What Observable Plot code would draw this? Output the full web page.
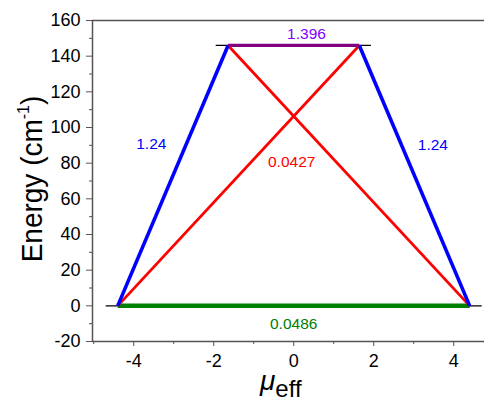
<!DOCTYPE html>
<html><head><meta charset="utf-8">
<script src="https://cdn.jsdelivr.net/npm/d3@7"></script>
<script src="https://cdn.jsdelivr.net/npm/@observablehq/plot@0.6"></script>
<style>body{margin:0;background:#fff}svg{font-family:"Liberation Sans",Arial,sans-serif}</style>
</head><body><div id="c"></div>
<script>
const xTicks = [-4, -2, 0, 2, 4];
const xMinor = [-5, -3, -1, 1, 3];
const yTicks = [-20, 0, 20, 40, 60, 80, 100, 120, 140, 160];
const yMinor = [-10, 10, 30, 50, 70, 90, 110, 130, 150];
const xDomain = [-5.03, 4.77];
const yDomain = [-20, 160];
// energy levels
const ground = {x1: -4.4, x2: 4.4, y: 0};
const excited = {x1: -1.64, x2: 1.64, y: 146};
const groundRef = {x1: -4.7, x2: 4.7, y: 0};
const excitedRef = {x1: -1.95, x2: 1.93, y: 146};
const blueLinks = [{x1: -4.4, y1: 0, x2: -1.64, y2: 146}, {x1: 4.4, y1: 0, x2: 1.64, y2: 146}];
const redLinks = [{x1: -4.4, y1: 0, x2: 1.64, y2: 146}, {x1: 4.4, y1: 0, x2: -1.64, y2: 146}];
const labels = [
  {x: -3.56, y: 90.5, t: "1.24", c: "#0000ff"},
  {x: 3.48, y: 90, t: "1.24", c: "#0000ff"},
  {x: -0.05, y: 80.5, t: "0.0427", c: "#ff0000"},
  {x: 0.32, y: 152.5, t: "1.396", c: "#8000ff"},
  {x: 0, y: -10, t: "0.0486", c: "#008000"}
];
const axisColor = "#555";
const plot = Plot.plot({
  width: 484, height: 401,
  marginLeft: 92, marginTop: 20, marginBottom: 60, marginRight: 0,
  style: {fontFamily: "Liberation Sans, Arial, sans-serif", fontSize: "18px", color: "#000"},
  x: {domain: xDomain},
  y: {domain: yDomain},
  marks: [
    Plot.ruleY([yDomain[0], yDomain[1]], {stroke: axisColor, strokeWidth: 1.5}),
    Plot.ruleX([xDomain[0]], {stroke: axisColor, strokeWidth: 1.5}),
    Plot.axisX({ticks: xTicks, tickSize: 5, tickPadding: 8, fontSize: 18, label: null, stroke: axisColor, tickFormat: d => String(d)}),
    Plot.axisX({ticks: xMinor, tickSize: 3, text: null, label: null, stroke: axisColor}),
    Plot.axisY({ticks: yTicks, tickSize: 6, tickPadding: 6, fontSize: 18, label: null, stroke: axisColor, tickFormat: d => String(d)}),
    Plot.axisY({ticks: yMinor, tickSize: 3, text: null, label: null, stroke: axisColor}),
    Plot.link([groundRef, excitedRef], {x1: "x1", x2: "x2", y1: "y", y2: "y", stroke: "black", strokeWidth: 1.2}),
    Plot.link([ground], {x1: "x1", x2: "x2", y1: "y", y2: "y", stroke: "#008000", strokeWidth: 4.5}),
    Plot.link(redLinks, {x1: "x1", y1: "y1", x2: "x2", y2: "y2", stroke: "#ff0000", strokeWidth: 2.8}),
    Plot.link(blueLinks, {x1: "x1", y1: "y1", x2: "x2", y2: "y2", stroke: "#0000ff", strokeWidth: 3.6}),
    Plot.link([excited], {x1: "x1", x2: "x2", y1: "y", y2: "y", stroke: "#800080", strokeWidth: 3.2}),
    Plot.text(labels, {x: "x", y: "y", text: "t", fill: "c", fontSize: 15.5})
  ]
});
const svg = d3.select(plot);
const yl = svg.append("text").attr("transform", "translate(42,179) rotate(-90) scale(1,1.05)").attr("text-anchor", "middle")
  .attr("font-size", 28).attr("fill", "#000");
yl.append("tspan").text("Energy (cm");
yl.append("tspan").attr("font-size", 16).attr("dy", -12).text("-1");
yl.append("tspan").attr("dy", 12).text(")");
const xl = svg.append("text").attr("x", 260).attr("y", 390).attr("text-anchor", "start").attr("fill", "#000");
xl.append("tspan").attr("font-style", "italic").attr("font-size", 28).text("μ");
xl.append("tspan").attr("font-size", 24).attr("dy", 7).text("eff");
document.getElementById("c").appendChild(plot);
</script></body></html>
